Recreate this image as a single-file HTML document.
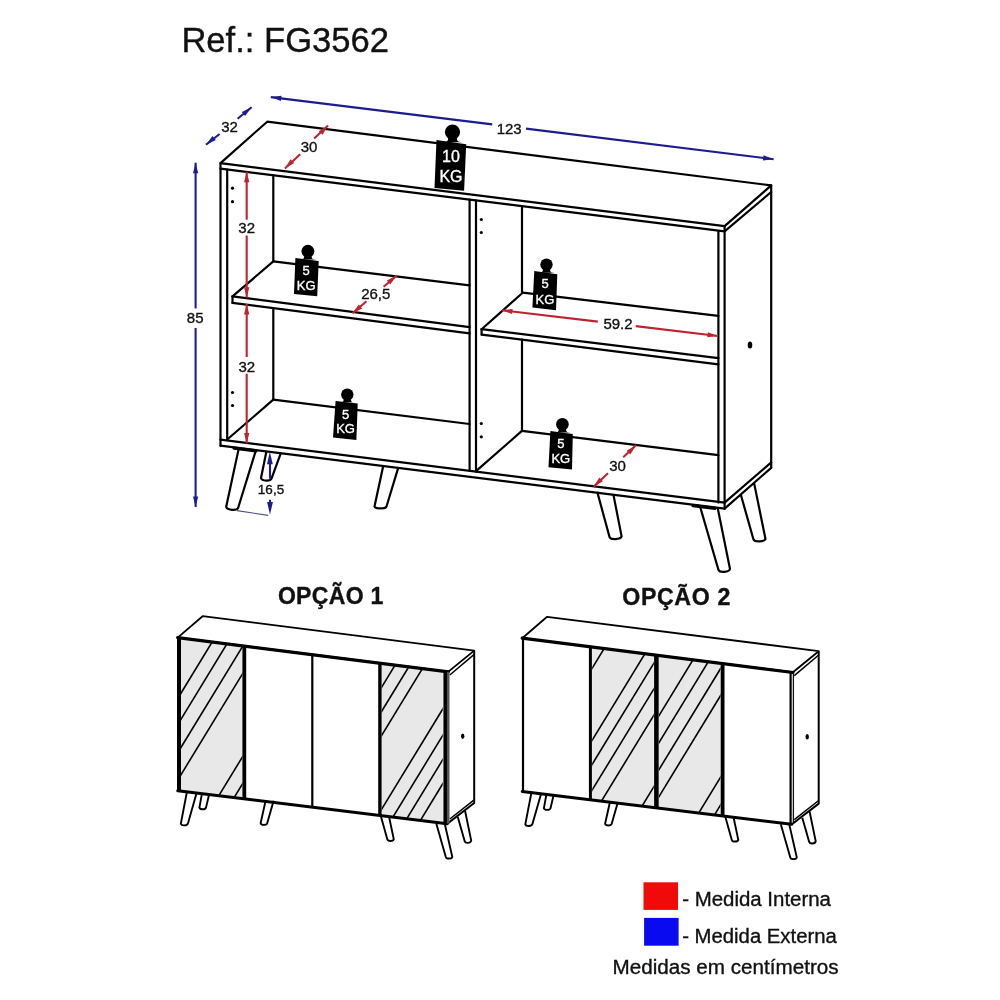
<!DOCTYPE html>
<html><head><meta charset="utf-8">
<style>
html,body{margin:0;padding:0;background:#fff;}
body{width:1000px;height:1000px;overflow:hidden;position:relative;}
svg{position:absolute;left:0;top:0;will-change:transform;}
text{font-family:"Liberation Sans",sans-serif;stroke-width:0.35px;}
</style></head><body>
<svg width="1000" height="1000" viewBox="0 0 1000 1000">
<rect width="1000" height="1000" fill="#fff"/>
<text x="181.4" y="52.3" font-size="34.8" textLength="207.6" lengthAdjust="spacingAndGlyphs" fill="#111" stroke="#111">Ref.: FG3562</text>
<path d="M238.82,448.13 L226.2,506.8 C227.39,510.6 236.91,510.6 238.1,508 L256.04,449.87" fill="#fff" stroke="#000" stroke-width="2.2" stroke-linejoin="round"/>
<path d="M266.5,451.03 L261,478 C262.05,481.3 270.45,481.3 271.5,478.7 L281.01,452.59" fill="#fff" stroke="#000" stroke-width="2.2" stroke-linejoin="round"/>
<path d="M383.32,465.53 L374.5,506.5 C375.7,509.1 385.3,509.1 386.5,506.5 L398.43,467.06" fill="#fff" stroke="#000" stroke-width="2.2" stroke-linejoin="round"/>
<path d="M597.21,491.75 L609.6,537.2 C610.8000000000001,539.8000000000001 620.4,539.8000000000001 621.6,536.4 L613.31,494.13" fill="#fff" stroke="#000" stroke-width="2.2" stroke-linejoin="round"/>
<path d="M700.08,506.56 L718.5,570 C719.65,572.6 728.85,572.6 730,569 L717.7,508.03" fill="#fff" stroke="#000" stroke-width="2.2" stroke-linejoin="round"/>
<path d="M740.79,494.56 L753.5,539.5 C754.7,542.1 764.3,542.1 765.5,539 L754.1,483.13" fill="#fff" stroke="#000" stroke-width="2.2" stroke-linejoin="round"/>
<g fill="none" stroke="#000" stroke-width="2.2" stroke-linecap="round" stroke-linejoin="round">
<path d="M267.2,121.7 L771.2,185.4 L724.6,226.2 L220.5,163.1 Z"/>
<path d="M220.5,168.7 L724.6,231.4"/>
<path d="M724.6,231.4 L771.2,192"/>
<path d="M220.5,163.1 V445.7"/>
<path d="M227.2,169.5 V439.7"/>
<path d="M724.6,226.2 V508.6"/>
<path d="M718.4,231 V502.6"/>
<path d="M771.2,185.4 V467.8"/>
<path d="M220.5,439.7 L724.6,502.6"/>
<path d="M220.5,445.7 L724.6,508.6"/>
<path d="M724.6,502.6 L771.2,462.4"/>
<path d="M724.6,508.6 L771.2,467.8"/>
<path d="M469.6,199.7 V470.8"/>
<path d="M476,200.5 V471.6"/>
<path d="M273.3,175.3 V261.3"/>
<path d="M273.3,308.2 V399.7"/>
<path d="M273.3,261.3 L469.6,285.4"/>
<path d="M273.3,261.3 L232.5,296.4"/>
<path d="M232.5,296.4 L469.6,327.2"/>
<path d="M232.5,302.9 L469.6,333.4"/>
<path d="M232.5,296.4 V302.9"/>
<path d="M273.3,399.7 L469.6,424"/>
<path d="M273.3,399.7 L227.2,439.5"/>
<path d="M522,206.2 V292.7"/>
<path d="M522,339.7 V430.9"/>
<path d="M522.7,292.7 L718.4,315.8"/>
<path d="M522.7,292.7 L481.6,329.2"/>
<path d="M481.6,329.2 L718.4,358.2"/>
<path d="M481.6,334.6 L718.4,364.4"/>
<path d="M481.6,329.2 V334.6"/>
<path d="M521.9,430.9 L718.4,455.2"/>
<path d="M521.9,430.9 L476,471.2"/>
</g>
<circle cx="232.5" cy="188.2" r="1.6" fill="#000"/>
<circle cx="232.5" cy="201.7" r="1.6" fill="#000"/>
<circle cx="232.5" cy="392.5" r="1.6" fill="#000"/>
<circle cx="232.5" cy="405.5" r="1.6" fill="#000"/>
<circle cx="481.3" cy="219.5" r="1.6" fill="#000"/>
<circle cx="481.3" cy="232.5" r="1.6" fill="#000"/>
<circle cx="481.3" cy="423.5" r="1.6" fill="#000"/>
<circle cx="481.3" cy="436.8" r="1.6" fill="#000"/>
<ellipse cx="750" cy="345" rx="2.3" ry="3.5" fill="#000"/>
<path d="M234,448.1 L256,450.9" stroke="#000" stroke-width="3.4" stroke-linecap="round"/>
<path d="M693,505.6 L715,508.4" stroke="#000" stroke-width="3.2" stroke-linecap="round"/>
<circle cx="452.5" cy="132" r="7.6" fill="#000"/>
<path d="M448.32,136.56 L447.94,139.54 Q447.94,142.2 442.62,142.2 L462.38,142.2 Q457.06,142.2 457.06,139.54 L456.68,136.56 Z" fill="#000"/>
<polygon points="436.5,140.1 466.2,144.3 464.1,190.7 434.5,188.1" fill="#000"/>
<text x="451" y="156" font-size="16" fill="#fff" stroke="#fff" text-anchor="middle" dominant-baseline="central">10</text>
<text x="451" y="176.3" font-size="16" fill="#fff" stroke="#fff" text-anchor="middle" dominant-baseline="central">KG</text>
<circle cx="307.9" cy="251.2" r="6.4" fill="#000"/>
<path d="M304.38,255.04 L304.06,257.26 Q304.06,259.5 299.58,259.5 L316.21999999999997,259.5 Q311.73999999999995,259.5 311.73999999999995,257.26 L311.41999999999996,255.04 Z" fill="#000"/>
<polygon points="295.4,258 318.7,261 317.2,296.2 294,294" fill="#000"/>
<text x="306.2" y="270.2" font-size="13" fill="#fff" stroke="#fff" text-anchor="middle" dominant-baseline="central">5</text>
<text x="306.2" y="285.5" font-size="13" fill="#fff" stroke="#fff" text-anchor="middle" dominant-baseline="central">KG</text>
<circle cx="546.5" cy="264.6" r="6.2" fill="#000"/>
<path d="M543.09,268.32000000000005 L542.78,270.47999999999996 Q542.78,272.65 538.44,272.65 L554.56,272.65 Q550.22,272.65 550.22,270.47999999999996 L549.91,268.32000000000005 Z" fill="#000"/>
<polygon points="534.3,271 557.3,274.3 556,310.3 532.4,307.6" fill="#000"/>
<text x="545" y="283.2" font-size="13" fill="#fff" stroke="#fff" text-anchor="middle" dominant-baseline="central">5</text>
<text x="545" y="299" font-size="13" fill="#fff" stroke="#fff" text-anchor="middle" dominant-baseline="central">KG</text>
<circle cx="347.3" cy="394.6" r="6.2" fill="#000"/>
<path d="M343.89,398.32000000000005 L343.58,400.13 Q343.58,402.3 339.24,402.3 L355.36,402.3 Q351.02000000000004,402.3 351.02000000000004,400.13 L350.71000000000004,398.32000000000005 Z" fill="#000"/>
<polygon points="335.6,401 357.7,403.6 356.4,440 333,437.4" fill="#000"/>
<text x="345.6" y="414" font-size="13" fill="#fff" stroke="#fff" text-anchor="middle" dominant-baseline="central">5</text>
<text x="345.6" y="428.3" font-size="13" fill="#fff" stroke="#fff" text-anchor="middle" dominant-baseline="central">KG</text>
<circle cx="562.4" cy="424.2" r="6.3" fill="#000"/>
<path d="M558.935,427.97999999999996 L558.62,430.245 Q558.62,432.45 554.2099999999999,432.45 L570.59,432.45 Q566.18,432.45 566.18,430.245 L565.865,427.97999999999996 Z" fill="#000"/>
<polygon points="550.4,430.9 572.8,434 572,469.6 548.5,467.2" fill="#000"/>
<text x="560.8" y="443.2" font-size="13" fill="#fff" stroke="#fff" text-anchor="middle" dominant-baseline="central">5</text>
<text x="560.8" y="458.4" font-size="13" fill="#fff" stroke="#fff" text-anchor="middle" dominant-baseline="central">KG</text>
<line x1="270.8" y1="97.1" x2="492.2" y2="124.4" stroke="#1e1c8c" stroke-width="2.1"/>
<line x1="526" y1="128.6" x2="773.6" y2="159.2" stroke="#1e1c8c" stroke-width="2.1"/>
<polygon points="270.8,97.1 281.5,95.8 280.9,101.0" fill="#1e1c8c"/>
<polygon points="773.6,159.2 762.9,160.5 763.5,155.3" fill="#1e1c8c"/>
<text x="509.2" y="128.7" font-size="15" text-anchor="middle" dominant-baseline="central" fill="#111" stroke="#111">123</text>
<line x1="206" y1="144.8" x2="219.6" y2="134" stroke="#1e1c8c" stroke-width="2.1"/>
<line x1="237.6" y1="118.7" x2="251.6" y2="107.3" stroke="#1e1c8c" stroke-width="2.1"/>
<polygon points="206.0,144.8 212.5,136.1 215.8,140.1" fill="#1e1c8c"/>
<polygon points="251.6,107.3 245.1,116.0 241.8,112.0" fill="#1e1c8c"/>
<text x="229.5" y="126.8" font-size="15" text-anchor="middle" dominant-baseline="central" fill="#111" stroke="#111">32</text>
<line x1="195.6" y1="162.7" x2="195.6" y2="308.4" stroke="#1e1c8c" stroke-width="2.1"/>
<line x1="195.6" y1="328" x2="195.6" y2="507" stroke="#1e1c8c" stroke-width="2.1"/>
<polygon points="195.6,162.7 198.2,173.2 193.0,173.2" fill="#1e1c8c"/>
<polygon points="195.6,507.0 193.0,496.5 198.2,496.5" fill="#1e1c8c"/>
<text x="195.2" y="317.6" font-size="15" text-anchor="middle" dominant-baseline="central" fill="#111" stroke="#111">85</text>
<line x1="270" y1="478.7" x2="270" y2="462" stroke="#1e1c8c" stroke-width="2.1"/>
<polygon points="269.8,451.8 272.8,464.3 267.0,464.3" fill="#1e1c8c"/>
<line x1="270" y1="499.8" x2="270" y2="504" stroke="#1e1c8c" stroke-width="2.1"/>
<polygon points="270.0,514.6 267.1,502.1 272.9,502.1" fill="#1e1c8c"/>
<text x="271" y="489.2" font-size="13.5" text-anchor="middle" dominant-baseline="central" fill="#111" stroke="#111">16,5</text>
<line x1="237" y1="510.6" x2="268.2" y2="515.4" stroke="#50508a" stroke-width="1.1"/>
<line x1="284.9" y1="168.5" x2="300.2" y2="154.2" stroke="#bc2430" stroke-width="2.1"/>
<line x1="314.1" y1="138.6" x2="328.1" y2="125.6" stroke="#bc2430" stroke-width="2.1"/>
<polygon points="284.9,168.5 290.5,159.3 294.2,162.9" fill="#bc2430"/>
<polygon points="328.1,125.6 322.5,134.8 318.8,131.2" fill="#bc2430"/>
<text x="309" y="146.4" font-size="15" text-anchor="middle" dominant-baseline="central" fill="#111" stroke="#111">30</text>
<line x1="246.7" y1="171.7" x2="246.7" y2="219.7" stroke="#bc2430" stroke-width="2.1"/>
<line x1="246.7" y1="235.5" x2="246.7" y2="297.7" stroke="#bc2430" stroke-width="2.1"/>
<polygon points="246.7,171.7 249.3,182.2 244.1,182.2" fill="#bc2430"/>
<polygon points="246.7,297.7 244.1,287.2 249.3,287.2" fill="#bc2430"/>
<text x="246.7" y="227.7" font-size="15" text-anchor="middle" dominant-baseline="central" fill="#111" stroke="#111">32</text>
<line x1="246.7" y1="304" x2="246.7" y2="357" stroke="#bc2430" stroke-width="2.1"/>
<line x1="246.7" y1="373.8" x2="246.7" y2="443.5" stroke="#bc2430" stroke-width="2.1"/>
<polygon points="246.7,304.0 249.3,314.5 244.1,314.5" fill="#bc2430"/>
<polygon points="246.7,443.5 244.1,433.0 249.3,433.0" fill="#bc2430"/>
<text x="246.8" y="366" font-size="15" text-anchor="middle" dominant-baseline="central" fill="#111" stroke="#111">32</text>
<line x1="352.5" y1="313.2" x2="366.5" y2="301.3" stroke="#bc2430" stroke-width="2.1"/>
<line x1="383.6" y1="286.7" x2="396.6" y2="275.6" stroke="#bc2430" stroke-width="2.1"/>
<polygon points="352.5,313.2 358.8,304.4 362.2,308.4" fill="#bc2430"/>
<polygon points="396.6,275.6 390.3,284.4 386.9,280.4" fill="#bc2430"/>
<text x="375.8" y="293.8" font-size="15" text-anchor="middle" dominant-baseline="central" fill="#111" stroke="#111">26,5</text>
<line x1="501.9" y1="310.3" x2="597.8" y2="321.6" stroke="#bc2430" stroke-width="2.1"/>
<line x1="635.7" y1="326.1" x2="718" y2="336" stroke="#bc2430" stroke-width="2.1"/>
<polygon points="501.9,310.3 512.6,309.0 512.0,314.1" fill="#bc2430"/>
<polygon points="718.0,336.0 707.3,337.3 707.9,332.2" fill="#bc2430"/>
<text x="618" y="323.8" font-size="15" text-anchor="middle" dominant-baseline="central" fill="#111" stroke="#111">59.2</text>
<line x1="593.6" y1="486.8" x2="608" y2="473.2" stroke="#bc2430" stroke-width="2.1"/>
<line x1="623.2" y1="457.2" x2="636" y2="445.2" stroke="#bc2430" stroke-width="2.1"/>
<polygon points="593.6,486.8 599.3,477.6 602.9,481.3" fill="#bc2430"/>
<polygon points="636.0,445.2 630.3,454.4 626.7,450.7" fill="#bc2430"/>
<text x="617.6" y="465.2" font-size="15" text-anchor="middle" dominant-baseline="central" fill="#111" stroke="#111">30</text>
<text x="277.9" y="604.4" font-size="23" font-weight="bold" textLength="105.5" lengthAdjust="spacing" fill="#111" stroke="#111">OPÇÃO 1</text>
<text x="622.3" y="604.8" font-size="23.2" font-weight="bold" textLength="108" lengthAdjust="spacing" fill="#111" stroke="#111">OPÇÃO 2</text>
<path d="M187.08,791.13 L180.8,823.8 C181.5,826.0 187.3,826.0 188,823.2 L196.81,792.36" fill="#fff" stroke="#000" stroke-width="1.9" stroke-linejoin="round"/>
<path d="M202.07,792.92 L199.4,807.6 C200.1,809.8 205.3,809.8 206,807.6 L209.35,793.54" fill="#fff" stroke="#000" stroke-width="1.9" stroke-linejoin="round"/>
<path d="M265.73,800.14 L260.6,823.2 C261.3,825.4 266.5,825.4 267.2,823.2 L273.61,800.76" fill="#fff" stroke="#000" stroke-width="1.9" stroke-linejoin="round"/>
<path d="M380.4,814.56 L387.3,839.3 C387.9,841.5 393.2,841.5 393.8,839.3 L388.99,816.43" fill="#fff" stroke="#000" stroke-width="1.9" stroke-linejoin="round"/>
<path d="M436.29,823.56 L445.8,856.9 C446.4,859.1 451.7,859.1 452.3,856.9 L444.87,824.24" fill="#fff" stroke="#000" stroke-width="1.9" stroke-linejoin="round"/>
<path d="M457.79,817.06 L464.7,841.3 C465.3,843.5 470.6,843.5 471.2,840.6 L465.0,810.53" fill="#fff" stroke="#000" stroke-width="1.9" stroke-linejoin="round"/>
<clipPath id="c0_0"><polygon points="181,638.01811 242.4,645.79749 242.4,798.59722 181,791.18624"/></clipPath>
<polygon points="181,638.01811 242.4,645.79749 242.4,798.59722 181,791.18624" fill="#e8e8e8"/>
<g clip-path="url(#c0_0)" stroke="#000" stroke-width="1.6">
<line x1="176.0" y1="701.3" x2="247.4" y2="584.2"/>
<line x1="176.0" y1="727.4" x2="247.4" y2="610.3"/>
<line x1="176.0" y1="755.6" x2="247.4" y2="638.5"/>
<line x1="176.0" y1="782.9" x2="247.4" y2="665.8"/>
<line x1="176.0" y1="865.9" x2="247.4" y2="748.8"/>
<line x1="176.0" y1="892.9" x2="247.4" y2="775.8"/>
</g>
<clipPath id="c0_1"><polygon points="381.6,663.43413 442.7,671.1755 442.7,822.77343 381.6,815.39866"/></clipPath>
<polygon points="381.6,663.43413 442.7,671.1755 442.7,822.77343 381.6,815.39866" fill="#e8e8e8"/>
<g clip-path="url(#c0_1)" stroke="#000" stroke-width="1.6">
<line x1="376.6" y1="695.4" x2="447.7" y2="578.8"/>
<line x1="376.6" y1="719.6" x2="447.7" y2="603.0"/>
<line x1="376.6" y1="743.7" x2="447.7" y2="627.1"/>
<line x1="376.6" y1="817.5" x2="447.7" y2="700.9"/>
<line x1="376.6" y1="843.9" x2="447.7" y2="727.3"/>
<line x1="376.6" y1="868.2" x2="447.7" y2="751.6"/>
<line x1="376.6" y1="892.3" x2="447.7" y2="775.7"/>
</g>
<polygon points="177.7,637.6 202.6,616.2 474.2,650.6 448.4,671.6" fill="#fff" stroke="#000" stroke-width="1.8" stroke-linejoin="round"/>
<path d="M474.2,650.6 L474.2,803 L447.1,823.9" fill="none" stroke="#000" stroke-width="2" stroke-linejoin="round"/>
<path d="M449.8,675 L474.2,654.4" stroke="#000" stroke-width="1.5"/>
<path d="M449.8,819.0 L474.2,799.9" stroke="#000" stroke-width="1.5"/>
<ellipse cx="462.7" cy="736.2" rx="1.7" ry="2.7" fill="#000"/>
<line x1="177.7" y1="637.6" x2="448.4" y2="671.9" stroke="#000" stroke-width="3.2" stroke-linecap="round"/>
<line x1="177.8" y1="790.8" x2="447.1" y2="823.7" stroke="#000" stroke-width="3" stroke-linecap="round"/>
<line x1="179" y1="637.8" x2="179" y2="790.9" stroke="#000" stroke-width="4"/>
<line x1="244.3" y1="646.0" x2="244.3" y2="798.8" stroke="#000" stroke-width="3.8"/>
<line x1="312.3" y1="654.7" x2="312.3" y2="807.0" stroke="#000" stroke-width="2.2"/>
<line x1="379.9" y1="663.2" x2="379.9" y2="815.2" stroke="#000" stroke-width="3.4"/>
<line x1="445.2" y1="671.5" x2="445.2" y2="823.1" stroke="#000" stroke-width="3.6"/>
<line x1="448.2" y1="671.9" x2="448.2" y2="823.4" stroke="#555" stroke-width="2.6"/>
<path d="M531.58,791.73 L525.3,824.4 C526.0,826.6 531.8,826.6 532.5,823.8 L541.31,792.96" fill="#fff" stroke="#000" stroke-width="1.9" stroke-linejoin="round"/>
<path d="M546.57,793.52 L543.9,808.2 C544.6,810.4 549.8,810.4 550.5,808.2 L553.85,794.14" fill="#fff" stroke="#000" stroke-width="1.9" stroke-linejoin="round"/>
<path d="M610.23,800.74 L605.1,823.8 C605.8,826.0 611.0,826.0 611.7,823.8 L618.11,801.36" fill="#fff" stroke="#000" stroke-width="1.9" stroke-linejoin="round"/>
<path d="M724.9,815.16 L731.8,839.9 C732.4,842.1 737.6,842.1 738.3,839.9 L733.49,817.03" fill="#fff" stroke="#000" stroke-width="1.9" stroke-linejoin="round"/>
<path d="M780.79,824.16 L790.3,857.5 C790.9,859.7 796.1,859.7 796.8,857.5 L789.37,824.84" fill="#fff" stroke="#000" stroke-width="1.9" stroke-linejoin="round"/>
<path d="M802.29,817.66 L809.2,841.9 C809.9,844.1 815.1,844.1 815.7,841.2 L809.5,811.13" fill="#fff" stroke="#000" stroke-width="1.9" stroke-linejoin="round"/>
<clipPath id="c344_0"><polygon points="592.2,647.0690000000001 653.8,654.87372 653.8,807.2720499999999 592.2,799.8369299999999"/></clipPath>
<polygon points="592.2,647.0690000000001 653.8,654.87372 653.8,807.2720499999999 592.2,799.8369299999999" fill="#e8e8e8"/>
<g clip-path="url(#c344_0)" stroke="#000" stroke-width="1.6">
<line x1="587.2" y1="676.3" x2="658.8" y2="558.9"/>
<line x1="587.2" y1="748.4" x2="658.8" y2="631.0"/>
<line x1="587.2" y1="772.5" x2="658.8" y2="655.1"/>
<line x1="587.2" y1="798.2" x2="658.8" y2="680.8"/>
<line x1="587.2" y1="824.5" x2="658.8" y2="707.1"/>
<line x1="587.2" y1="896.0" x2="658.8" y2="778.6"/>
</g>
<clipPath id="c344_1"><polygon points="658.9,655.51989 720.5,663.32461 720.5,815.32274 658.9,807.88762"/></clipPath>
<polygon points="658.9,655.51989 720.5,663.32461 720.5,815.32274 658.9,807.88762" fill="#e8e8e8"/>
<g clip-path="url(#c344_1)" stroke="#000" stroke-width="1.6">
<line x1="653.9" y1="723.9" x2="725.5" y2="606.5"/>
<line x1="653.9" y1="750.9" x2="725.5" y2="633.5"/>
<line x1="653.9" y1="777.9" x2="725.5" y2="660.5"/>
<line x1="653.9" y1="804.9" x2="725.5" y2="687.5"/>
<line x1="653.9" y1="886.5" x2="725.5" y2="769.1"/>
<line x1="653.9" y1="914.3" x2="725.5" y2="796.9"/>
</g>
<polygon points="522.2,638.2 547.1,616.8 818.7,651.2 792.9,672.2" fill="#fff" stroke="#000" stroke-width="1.8" stroke-linejoin="round"/>
<path d="M818.7,651.2 L818.7,803.6 L791.6,824.5" fill="none" stroke="#000" stroke-width="2" stroke-linejoin="round"/>
<path d="M794.3,675.6 L818.7,655.0" stroke="#000" stroke-width="1.5"/>
<path d="M794.3,819.6 L818.7,800.5" stroke="#000" stroke-width="1.5"/>
<ellipse cx="807.2" cy="736.8000000000001" rx="1.7" ry="2.7" fill="#000"/>
<line x1="522.2" y1="638.2" x2="792.9" y2="672.5" stroke="#000" stroke-width="3.2" stroke-linecap="round"/>
<line x1="522.3" y1="791.4" x2="791.6" y2="824.3000000000001" stroke="#000" stroke-width="3" stroke-linecap="round"/>
<line x1="523.0" y1="638.3" x2="523.0" y2="791.5" stroke="#000" stroke-width="2.2"/>
<line x1="590.4" y1="646.8" x2="590.4" y2="799.6" stroke="#000" stroke-width="3"/>
<line x1="656.4" y1="655.2" x2="656.4" y2="807.6" stroke="#000" stroke-width="4.6"/>
<line x1="722.6" y1="663.6" x2="722.6" y2="815.6" stroke="#000" stroke-width="3.8"/>
<line x1="790.6" y1="672.2" x2="790.6" y2="823.8" stroke="#000" stroke-width="2.2"/>
<line x1="793.4" y1="672.6" x2="793.4" y2="824.1" stroke="#111" stroke-width="1.3"/>
<rect x="643.5" y="882.3" width="34.5" height="27.6" fill="#f00a0a"/>
<rect x="644.1" y="917.9" width="34.5" height="27.8" fill="#0a0af0"/>
<text x="682.2" y="906.3" font-size="20" textLength="148.8" lengthAdjust="spacingAndGlyphs" fill="#111" stroke="#111">- Medida Interna</text>
<text x="682.2" y="942.8" font-size="20" textLength="154.6" lengthAdjust="spacingAndGlyphs" fill="#111" stroke="#111">- Medida Externa</text>
<text x="612.6" y="973.7" font-size="20" textLength="226" lengthAdjust="spacingAndGlyphs" fill="#111" stroke="#111">Medidas em centímetros</text>
</svg>
</body></html>
